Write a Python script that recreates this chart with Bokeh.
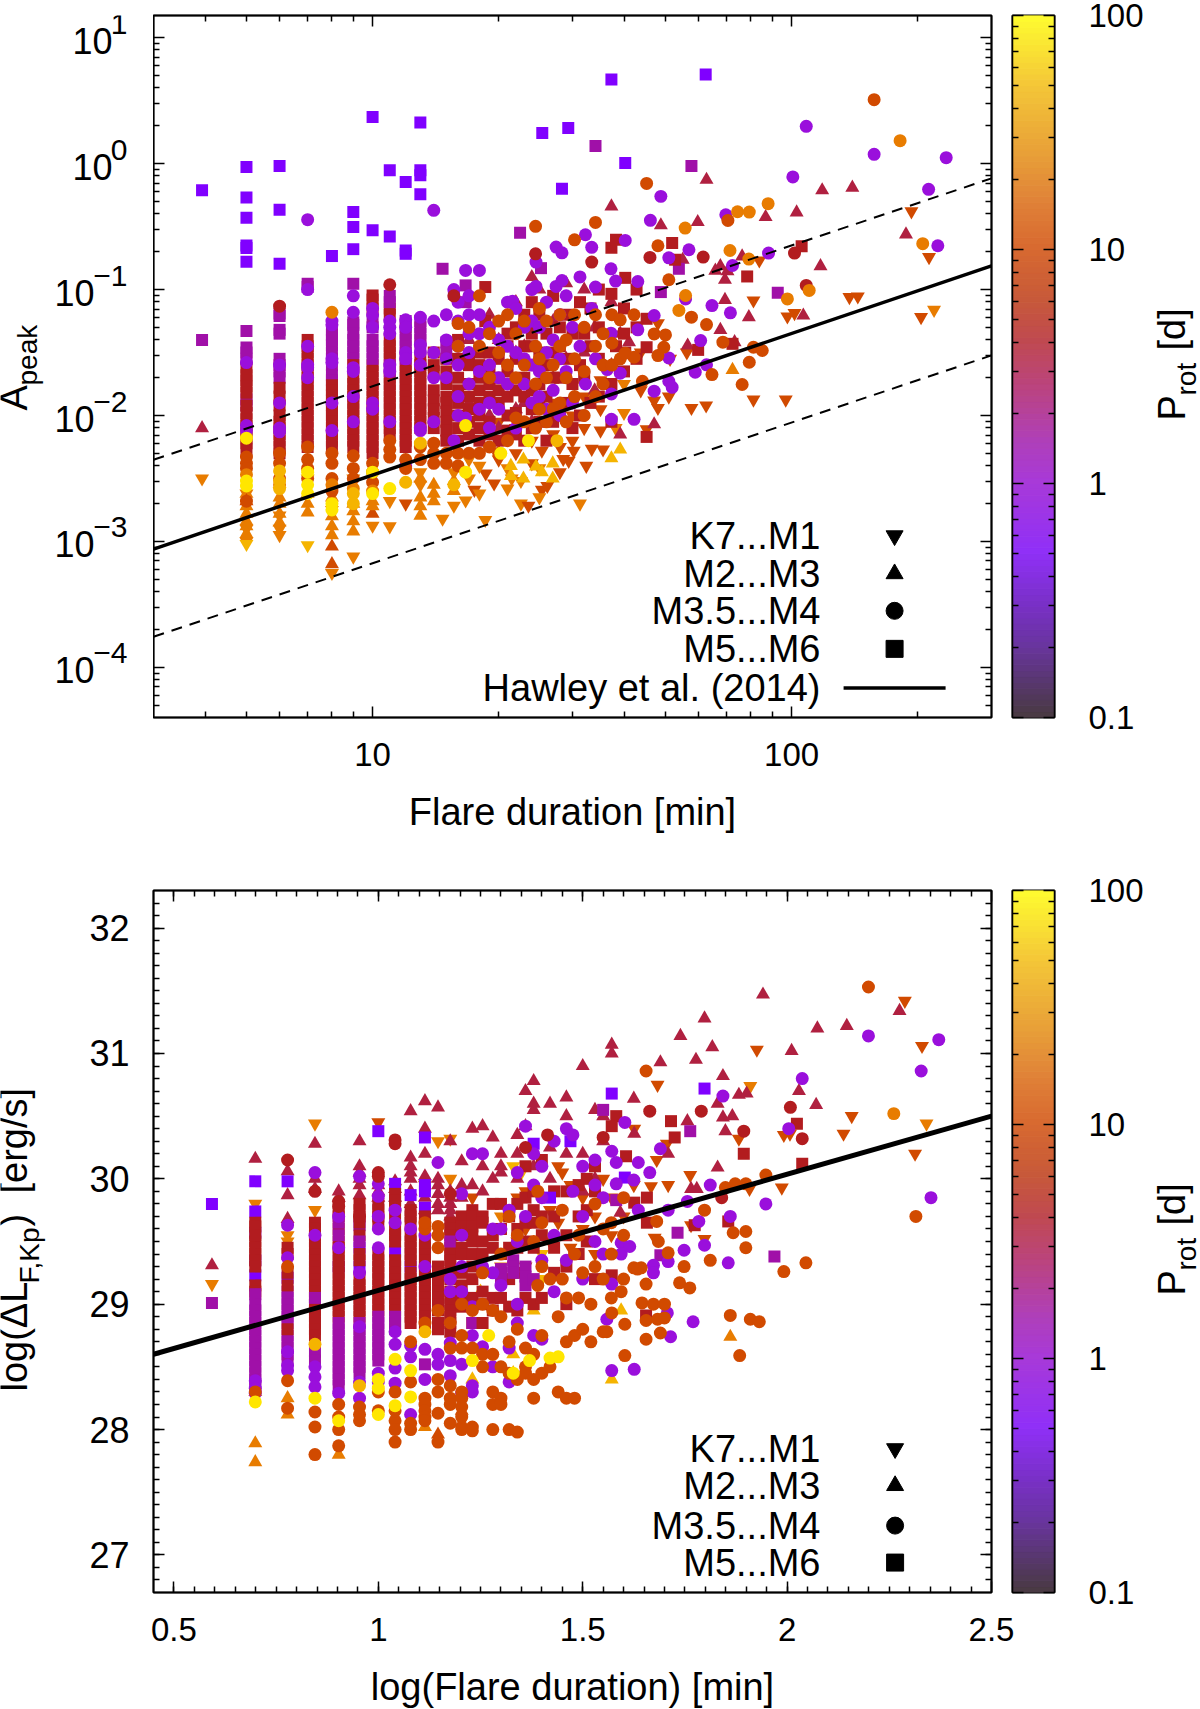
from math import pi
import numpy as np
from bokeh.embed import file_html
from bokeh.resources import INLINE
from bokeh.plotting import figure
from bokeh.layouts import column, row
from bokeh.models import (ColumnDataSource, FixedTicker, Label, LinearAxis, LogAxis,
                          CustomJSTickFormatter, Range1d)

# class index -> (rotation period [d], marker colour)
PROT = [0.5, 1.0, 1.5, 3.0, 3.5, 7.0, 12.0, 30.0, 70.0]
MARK_COLORS = ["#8000ff", "#9a0fdc", "#a010a8", "#b21c1f", "#b02040", "#d14a00", "#e87c00", "#f5b400", "#ffe600"]
CB_P = [0.1, 0.2, 0.3, 0.5, 1, 1.5, 2.5, 4, 6, 10, 15, 25, 50, 100]
CB_C = ["#4a3a44", "#6a35a0", "#7a30c8", "#9030f8", "#a83ad8", "#b040b8", "#bb4480", "#c04a50", "#c85a3a",
        "#d86a30", "#e08038", "#e8a038", "#f5c838", "#ffff30"]
LEGEND_NAMES = ["K7...M1", "M2...M3", "M3.5...M4", "M5...M6"]
LEGEND_MARKERS = ["inverted_triangle", "triangle", "circle", "square"]
HAWLEY_X = [3, 300]
HAWLEY_SOLID = [8.7e-4, 0.154]
HAWLEY_UP = [4.45e-3, 0.764]
HAWLEY_LOW = [1.75e-4, 0.030]
LOG_HAWLEY_X = [0.45, 2.5]
LOG_HAWLEY_Y = [28.6, 30.5]

# rows: (log10 duration, colour class, [log10 A_peak ...])
A_DOWN = [
 (0.593,6,[-2.5]),(0.699,6,[-2.62,-2.9,-3.0]),(0.699,7,[-3.02]),(0.778,6,[-2.795,-2.9,-2.95]),(0.778,7,[-2.6]),
 (0.845,7,[-3.03,-2.5]),(0.903,6,[-3.25,-2.75]),(0.954,6,[-3.12,-2.5]),(1.0,6,[-2.875]),(1.041,6,[-2.88,-2.68]),
 (1.079,5,[-2.70]),(1.114,6,[-2.45,-2.55]),(1.167,6,[-2.82]),(1.194,6,[-2.716,-2.45]),(1.222,6,[-2.675]),(1.243,5,[-2.59]),
 (1.269,6,[-2.83]),(1.27,5,[-2.46]),(1.29,5,[-2.54]),(1.332,6,[-2.5]),(1.354,6,[-2.70,-2.52]),(1.372,5,[-2.716]),
 (1.404,5,[-2.59,-2.28]),(1.417,5,[-2.56]),(1.455,5,[-2.345]),(1.468,5,[-2.36]),(1.48,5,[-2.28]),(1.495,6,[-2.70]),
 (1.523,5,[-2.265]),(1.55,5,[-2.27]),(1.58,6,[-2.10]),(1.654,5,[-2.11]),(1.672,5,[-1.882]),(1.681,5,[-1.94,-1.267]),
 (1.707,5,[-1.85]),(1.761,5,[-1.94]),(1.796,5,[-1.92]),(1.909,5,[-1.874]),(1.986,5,[-1.874]),(1.909,5,[-1.087]),
 (1.923,5,[-0.769]),(1.99,5,[-1.214]),(2.007,5,[-1.187]),(2.138,5,[-1.06]),(2.158,5,[-1.055]),(2.286,5,[-0.379]),
 (2.309,5,[-1.219]),(2.328,5,[-0.742]),(2.34,6,[-1.161]),
 (1.301,5,[-2.2,-2.05,-2.35]),(1.342,5,[-2.1,-2.3]),(1.38,5,[-1.95,-2.2,-2.38]),(1.431,5,[-2.15,-1.9]),(1.477,5,[-2.0,-2.2]),(1.505,5,[-2.1,-1.85]),
 (1.544,5,[-1.72,-1.95,-2.12]),(1.6,6,[-1.75,-1.98]),(1.64,5,[-1.5,-1.8]),(1.71,5,[-1.55]),(1.75,5,[-1.5]),
 (1.23,6,[-2.35,-2.5]),(1.255,6,[-2.4,-2.62]),(1.322,6,[-2.42,-2.58]),(1.398,6,[-2.42,-2.65]),(1.447,5,[-2.25,-2.45]),(1.51,5,[-2.4]),
]
A_UP = [
 (0.593,4,[-2.1]),(0.699,6,[-2.62,-2.72,-2.78,-2.84,-2.88,-2.94]),(0.699,5,[-2.68]),(0.778,6,[-2.7,-2.65,-2.78,-2.85]),(0.845,6,[-2.77,-2.7,-2.62]),(0.903,5,[-3.04,-3.18]),(0.903,6,[-2.65,-2.8,-2.88,-2.95]),
 (0.954,6,[-2.7,-2.76,-2.84,-2.92]),(1.0,5,[-2.78]),(1.0,6,[-2.68,-2.72]),(1.114,6,[-2.5,-2.795,-2.65,-2.72]),(1.146,6,[-2.55,-2.62,-2.68]),(1.194,6,[-2.52,-2.6]),(1.39,7,[-2.405]),(1.404,7,[-2.45]),
 (1.33,7,[-2.4,-2.48]),(1.36,7,[-2.35,-2.5]),(1.43,7,[-2.38,-2.5]),(1.57,7,[-2.34]),(1.591,7,[-2.27]),(1.859,6,[-1.638]),
 (1.23,4,[-1.4,-1.9]),(1.279,4,[-1.2,-2.0]),(1.301,4,[-1.4,-2.1]),(1.342,4,[-1.1,-1.5,-1.95]),(1.362,4,[-1.45,-1.9]),(1.38,4,[-0.9,-1.3,-2.05]),(1.398,4,[-1.0,-1.6]),
 (1.431,4,[-1.25,-1.7]),(1.462,4,[-0.95,-1.55]),(1.505,4,[-1.0,-1.5]),(1.53,4,[-1.3,-1.8]),
 (1.57,4,[-0.34,-1.1,-1.6]),(1.591,4,[-2.15,-1.35]),(1.612,4,[-1.418]),(1.672,4,[-2.07]),(1.688,4,[-0.49]),(1.74,4,[-0.763]),(1.752,4,[-1.444]),(1.776,4,[-0.464]),
 (1.797,4,[-0.128]),(1.818,4,[-0.85]),(1.83,4,[-0.814,-1.32]),(1.841,4,[-0.922,-1.082]),(1.847,4,[-0.854]),(1.864,4,[-1.418]),(1.882,4,[-0.737]),
 (1.898,4,[-1.219]),(1.938,4,[-0.424]),(2.012,4,[-0.387]),(2.028,4,[-1.206]),(2.069,4,[-0.814]),(2.073,4,[-0.212]),(2.145,4,[-0.191]),(2.273,4,[-0.562]),
]
A_SQUARE = [
 (0.593,0,[-0.212]),(0.699,0,[-0.027,-0.27,-0.43,-0.65,-0.67,-0.78]),(0.778,0,[-0.019,-0.366,-0.795]),(0.903,0,[-0.734]),
 (0.954,0,[-0.385,-0.504,-0.679]),(1.0,0,[0.371,-0.53]),(1.041,0,[-0.053,-0.578]),(1.079,0,[-0.146,-0.69,-0.716]),
 (1.114,0,[0.326,-0.053,-0.093,-0.244]),(1.405,0,[0.243]),(1.467,0,[0.283]),(1.452,0,[-0.2]),(1.57,0,[0.667]),(1.795,0,[0.707]),(1.603,0,[0.005]),
 (0.593,2,[-1.4]),(1.532,2,[0.14]),(1.352,2,[-0.549]),(1.167,2,[-0.835]),(1.194,2,[-1.034]),(1.222,2,[-0.967,-1.1]),(1.402,2,[-0.83]),(1.761,2,[-0.019]),
 (1.731,2,[-0.835]),(1.688,2,[-1.02]),(1.967,2,[-1.026]),
 (0.699,2,[-1.33,-1.46,-1.5,-1.55,-1.87,-1.92]),(0.699,3,[-1.62,-1.68,-1.72,-1.77,-1.82,-1.92,-1.98,-2.03,-2.08,-2.14,-2.18,-2.22,-2.27]),
 (0.778,2,[-1.19,-1.21,-1.32,-1.35,-1.55,-1.6,-1.65,-1.7]),(0.778,3,[-1.78,-1.85,-1.92,-2.0,-2.05,-2.1,-2.15,-2.2,-2.25,-2.3]),
 (0.845,2,[-0.954,-0.98]),(0.845,3,[-1.4,-1.45,-1.5,-1.55,-1.6,-1.65,-1.7,-1.75,-1.8,-1.85,-1.9,-1.95,-2.0,-2.05,-2.1,-2.15,-2.2,-2.25]),
 (0.903,2,[-1.32,-1.36,-1.4,-1.44,-1.5,-1.55,-1.6,-1.68,-1.72]),(0.903,3,[-1.76,-1.8,-1.84,-1.88,-1.92,-1.96,-2.0,-2.05,-2.1,-2.15,-2.2,-2.25]),
 (0.954,2,[-0.954,-1.26,-1.28,-1.5,-1.55,-1.35,-1.4,-1.45]),(0.954,3,[-1.6,-1.7,-1.75,-1.8,-1.85,-1.9,-1.95,-2.0,-2.05,-2.1,-2.15,-2.2,-2.25]),
 (1.0,3,[-1.047,-1.08,-1.15,-1.6,-1.65,-1.7,-1.75,-1.8,-1.85,-1.9,-1.95,-2.0,-2.05,-2.1,-2.15,-2.2,-2.25,-2.3]),(1.0,2,[-1.4,-1.45,-1.5,-1.55,-1.25,-1.3]),
 (1.041,3,[-1.15,-1.2,-1.4,-1.45,-1.5,-1.55,-1.7,-1.75,-1.8,-1.85,-1.9,-1.95,-2.0,-2.05,-2.1,-2.15]),(1.041,2,[-1.05,-1.1,-1.6,-1.65]),
 (1.079,3,[-1.6,-1.65,-1.7,-1.75,-1.8,-1.85,-1.9,-1.95,-2.0,-2.05,-2.1,-2.15,-2.2,-2.25]),(1.079,2,[-1.25,-1.3,-1.35,-1.4,-1.45,-1.5,-1.55]),
 (1.114,3,[-1.55,-1.6,-1.65,-1.7,-1.75,-1.8,-1.85,-1.9,-1.95,-2.0,-2.05,-2.1]),(1.114,2,[-1.25,-1.3,-1.35,-1.4,-1.45]),
 (1.146,3,[-1.5,-1.6,-1.65,-1.8,-1.88,-1.95,-2.02,-2.1]),(1.176,3,[-1.55,-1.65,-1.75,-1.85,-1.9,-1.97,-2.05,-2.12,-2.2]),(1.176,2,[-1.42,-1.5]),(1.204,3,[-1.4,-1.55,-1.7,-1.8,-1.9,-2.0,-2.1,-2.2]),
 (1.23,3,[-1.55,-1.6,-1.75,-1.85,-1.95,-2.05,-2.15]),(1.255,3,[-1.5,-1.6,-1.7,-1.8,-1.9,-2.0,-2.1,-2.2]),(1.279,3,[-1.5,-1.65,-1.75,-1.85,-2.05,-2.15]),
 (1.301,3,[-1.55,-1.7,-1.8,-1.9,-2.2]),(1.269,3,[-0.98,-1.25]),(1.322,3,[-1.35,-1.45,-1.65,-1.85,-2.0,-2.12]),(1.342,3,[-1.3,-1.55,-1.8,-1.98,-2.15]),(1.362,3,[-1.2,-1.45,-1.7,-1.85,-2.2]),
 (1.38,3,[-1.1,-1.35,-1.45,-1.6,-1.8,-1.95,-2.1]),(1.398,3,[-1.2,-1.5,-1.75,-1.9,-2.05]),(1.415,3,[-1.35,-1.6,-1.85,-2.2]),(1.431,3,[-1.5,-1.05,-1.7,-2.05]),
 (1.447,3,[-1.3,-1.45,-1.7,-1.95]),(1.462,3,[-1.2,-1.55,-1.9]),(1.477,3,[-1.35,-1.75,-2.1]),(1.495,3,[-1.1,-1.6,-2.0]),(1.52,3,[-1.15,-1.45,-1.9]),
 (1.505,3,[-1.35,-1.7]),(1.54,3,[-1.0,-1.3,-1.55,-1.85]),(1.6,3,[-1.15,-1.35,-1.65]),(1.63,3,[-1.0,-1.3,-1.55]),
 (1.57,3,[-0.668,-1.034,-1.75,-2.05]),(1.581,3,[-0.604,-1.45]),(1.603,3,[-0.907,-1.5]),(1.654,3,[-1.232,-1.458,-2.17]),(1.715,3,[-0.631]),
 (1.722,3,[-0.763]),(1.777,3,[-1.479]),(1.859,3,[-1.431]),(1.894,3,[-0.896]),(2.024,3,[-0.657]),
]
A_CIRCLE = [
 (0.845,1,[-0.445,-1.0,-1.45,-1.6,-1.62,-1.7]),(0.954,1,[-1.05,-1.18,-1.62,-1.65,-1.85,-2.05]),(0.699,1,[-1.58,-2.08,-2.12]),(0.778,1,[-1.6,-1.9,-2.1,-2.13]),
 (0.903,1,[-1.25,-1.28,-1.55,-1.58,-1.9,-2.12]),(1.0,1,[-1.15,-1.2,-1.3,-1.9,-1.95]),(1.041,1,[-1.25,-1.3,-1.35,-1.6,-1.65,-2.05]),
 (1.079,1,[-1.24,-1.3,-1.5,-1.55,-2.4]),(1.114,1,[-1.22,-1.44,-1.5,-1.6,-2.1,-2.12]),(1.146,1,[-0.371,-1.25,-1.5,-1.7,-2.05]),
 (1.176,1,[-1.2,-1.4,-1.55,-1.7]),(1.194,1,[-1.0,-2.2]),(1.204,1,[-1.1,-1.25,-1.45,-1.6,-1.85,-2.0]),(1.222,1,[-0.848,-2.02]),
 (1.23,1,[-1.05,-1.2,-1.35,-1.5,-1.75]),(1.255,1,[-0.848,-1.2,-1.35,-1.65,-1.95]),(1.279,1,[-1.3,-1.6,-1.9,-2.1]),(1.301,1,[-1.4,-1.7,-1.95]),
 (1.322,1,[-1.1,-1.45,-1.75]),(1.334,1,[-1.092]),(1.342,1,[-1.15,-1.5,-2.1]),(1.362,1,[-1.3,-1.55,-1.75]),(1.38,1,[-1.0,-1.25,-1.6,-1.9]),
 (1.39,1,[-0.782,-0.975]),(1.398,1,[-1.3,-1.65,-1.85]),(1.415,1,[-1.1,-1.5,-1.95]),(1.431,1,[-1.4,-1.8]),(1.438,1,[-0.663,-0.975]),(1.447,1,[-1.2,-1.55,-2.0]),
 (1.452,1,[-0.708,-0.928]),(1.462,1,[-1.05,-1.65]),(1.477,1,[-1.3,-1.9]),(1.495,1,[-0.9,-1.45]),(1.508,1,[-0.565,-1.75]),(1.523,1,[-0.665,-1.15]),(1.532,1,[-0.98,-1.55]),
 (1.56,1,[-1.635]),(1.569,1,[-0.835,-1.346]),(1.57,1,[-1.829,-2.03]),(1.58,1,[-0.933]),(1.591,1,[-1.664]),(1.603,1,[-0.61]),(1.624,1,[-2.03]),(1.633,1,[-0.936,-1.32]),
 (1.663,1,[-0.45]),(1.672,1,[-1.206,-1.807]),(1.688,1,[-0.26]),(1.707,1,[-0.748,-1.543,-1.728]),(1.715,1,[-1.776]),(1.747,1,[-1.074]),(1.755,1,[-0.684]),
 (1.77,1,[-1.656]),(1.783,1,[-1.405]),(1.797,1,[-1.598]),(1.81,1,[-1.127]),(1.843,1,[-0.406]),(1.854,1,[-1.185]),(1.859,1,[-0.809]),(1.945,1,[-0.71]),(2.003,1,[-0.106]),
 (2.035,1,[0.296]),(2.197,1,[0.074]),(2.327,1,[-0.204]),(2.349,1,[-0.652]),(2.369,1,[0.047]),
 (0.778,3,[-1.132]),(1.041,3,[-0.962]),(1.194,3,[-1.05]),(1.389,3,[-0.716]),(1.523,3,[-0.782]),(1.662,3,[-0.745]),(1.789,3,[-0.742]),(2.007,3,[-0.71]),(2.035,3,[-0.967]),
 (0.699,5,[-2.33,-2.38,-2.42,-2.68]),(0.778,5,[-2.3,-2.38,-2.5]),(0.845,5,[-2.25,-2.35,-2.42,-2.5]),(0.903,5,[-2.3,-2.38,-2.5,-2.6]),(0.954,5,[-2.32,-2.42,-2.5]),
 (1.0,5,[-2.38,-2.45,-2.53]),(1.041,5,[-2.2,-2.27,-2.33]),(1.079,5,[-2.35,-2.42]),(1.114,5,[-2.25,-2.35]),(1.146,5,[-2.22,-2.3,-2.38]),(1.176,5,[-2.3,-2.38]),
 (1.204,5,[-1.27,-1.45,-2.3,-2.4]),(1.23,5,[-1.3,-2.3]),(1.279,5,[-1.35,-2.25,-1.7]),(1.322,5,[-1.2,-1.6,-2.2]),(1.362,5,[-1.25,-1.6,-2.05]),(1.389,5,[-0.498,-1.45,-1.75,-2.1]),
 (1.415,5,[-1.25,-1.7,-2.05]),(1.447,5,[-1.45,-1.9,-1.2]),(1.482,5,[-0.605,-1.55,-1.85,-1.2]),(1.505,5,[-1.3,-1.65,-2.0]),(1.532,5,[-0.467,-1.2,-1.45,-1.85]),
 (1.255,5,[-1.05,-1.45,-2.3]),(1.301,5,[-1.25,-1.5,-2.3]),(1.342,5,[-1.35,-1.7,-2.02]),(1.398,5,[-1.15,-1.55,-1.95]),(1.431,5,[-1.6,-1.95]),(1.462,5,[-1.4,-1.7,-2.05]),(1.55,5,[-1.35,-1.6,-1.75]),
 (1.571,5,[-1.426,-1.2,-1.6]),(1.591,5,[-1.24,-1.55]),(1.603,5,[-1.505]),(1.624,5,[-1.537,-1.2]),(1.644,5,[-1.728]),(1.654,5,[-0.157]),(1.672,5,[-1.352]),(1.681,5,[-0.652,-1.524]),
 (1.695,5,[-1.458]),(1.699,5,[-1.36]),(1.707,5,[-0.922]),(1.731,6,[-1.166]),(1.746,6,[-0.512]),(1.747,6,[-1.047]),(1.761,5,[-1.219]),(1.797,5,[-1.278]),(1.81,5,[-1.675]),
 (1.836,5,[-1.418]),(1.848,5,[-0.451]),(1.853,6,[-0.69]),(1.871,6,[-0.382]),(1.882,5,[-1.754]),(1.898,6,[-0.758]),(1.899,6,[-0.385]),(1.899,5,[-1.577]),(1.909,5,[-1.458]),
 (1.93,5,[-1.484]),(1.944,6,[-0.318]),(1.99,6,[-1.074]),(2.042,6,[-1.007]),(2.197,5,[0.508]),(2.259,6,[0.182]),(2.313,6,[-0.636]),(0.903,6,[-1.18,-2.55]),
 (0.699,6,[-2.47]),(0.778,6,[-2.55]),(0.954,6,[-2.58]),(1.0,6,[-2.6]),
 (0.699,8,[-2.18,-2.52,-2.56]),(0.778,7,[-2.44,-2.52,-2.58]),(0.845,8,[-2.45,-2.55,-2.62]),(0.903,8,[-2.7,-2.75]),(0.954,7,[-2.62,-2.7]),(1.0,8,[-2.45,-2.62]),
 (1.041,8,[-2.58]),(1.079,7,[-2.53]),(1.114,7,[-2.22]),(1.194,7,[-2.55]),(1.222,8,[-2.45]),(1.222,8,[-2.08]),(1.306,8,[-2.3]),(1.372,8,[-2.2]),(1.44,7,[-2.2]),
]

# rows: (log10 duration, colour class, [log10 Delta L ...])
B_DOWN = [
 (0.593,6,[29.16]),(0.699,6,[29.8]),(0.778,6,[29.55,29.5]),(0.845,6,[30.44,29.75]),(1.0,5,[30.45]),(1.114,6,[29.95]),(1.146,6,[30.3]),(1.176,6,[30.32,30.0]),
 (1.23,5,[29.85]),(1.33,7,[30.1]),(1.35,7,[30.05]),(1.4,7,[29.4,29.2]),(1.45,5,[30.05]),
 (1.55,5,[30.0]),(1.625,5,[29.95]),(1.626,5,[30.4]),(1.667,5,[29.94]),(1.676,5,[29.53]),(1.681,5,[30.15]),(1.683,5,[30.75]),(1.706,5,[30.28]),(1.709,5,[29.95]),(1.763,5,[30.03]),
 (1.765,5,[29.63]),(1.798,5,[29.52]),(1.882,5,[30.32]),(1.908,5,[29.92]),(1.91,6,[30.74]),(1.926,5,[31.03]),(1.987,5,[29.93]),(1.992,5,[30.35]),(2.007,5,[30.36]),
 (2.138,5,[30.36]),(2.158,5,[30.5]),(2.288,5,[31.42]),(2.313,5,[30.2]),(2.33,5,[31.06]),(2.341,6,[30.44]),
 (1.36,5,[29.9,29.6,29.3]),(1.42,5,[29.75,29.5]),(1.5,5,[29.85,29.6]),(1.53,5,[29.7,29.4]),
 (1.3,6,[29.7,29.3]),(1.34,5,[29.85,29.5]),(1.44,5,[30.1,29.65]),(1.47,5,[29.95,29.45]),(1.57,5,[29.85,29.55]),(1.6,5,[29.7]),
]
B_UP = [
 (0.593,4,[29.31]),(0.699,4,[30.16]),(0.699,6,[27.89,27.74,28.3]),(0.778,4,[30.06,29.87,29.68]),(0.778,6,[28.25,28.12]),(0.845,4,[30.28,30.0,29.92]),(0.903,4,[29.9,29.85]),(0.903,6,[27.8]),
 (0.954,4,[30.3,30.1,30.05,29.87,30.0,29.95]),(1.0,4,[29.95,29.9,29.85]),(1.041,4,[29.98,29.92,29.85]),(1.079,4,[30.54,30.17,30.1,30.05,30.0,29.8,29.9]),(1.114,4,[30.62,30.4,30.2,30.02,29.75,29.85]),(1.146,4,[30.57,30.0,29.88,29.75,29.95,29.8]),
 (1.176,4,[30.3,29.9,29.8,29.7,29.85,29.75]),(1.204,4,[30.14,29.95,29.85]),(1.23,4,[30.4,29.95]),(1.146,5,[27.96]),(1.204,5,[28.15]),(1.114,6,[28.02]),
 (1.255,4,[30.42,30.1,29.9]),(1.28,4,[30.33,30.0]),(1.3,4,[30.2,30.05,30.1]),(1.34,4,[30.2,30.35,30.0]),(1.36,4,[30.42,30.7]),(1.38,4,[30.78,30.6,30.55,30.1]),(1.42,4,[30.6,30.0,30.25]),
 (1.46,4,[30.65,30.5,30.2]),(1.5,4,[30.9,30.2,29.9]),(1.53,4,[30.55,30.0]),(1.55,4,[30.5,30.3]),(1.23,7,[28.4]),(1.25,7,[29.1]),(1.33,7,[28.45,28.6]),(1.38,7,[28.95]),(1.571,7,[28.4]),(1.594,7,[28.95]),
 (1.571,4,[31.07,31.0]),(1.592,4,[29.73]),(1.625,4,[30.64]),(1.626,4,[30.36]),(1.69,4,[30.93]),(1.709,4,[30.2]),(1.739,4,[31.14]),(1.756,4,[30.46]),(1.765,4,[29.92]),(1.777,4,[30.95]),(1.779,4,[29.92]),
 (1.798,4,[31.28]),(1.817,4,[31.05]),(1.83,4,[30.6,30.09]),(1.843,4,[30.82,30.49]),(1.849,4,[30.38]),(1.866,4,[30.5]),(1.882,4,[30.67]),(1.901,4,[30.68]),(1.941,4,[31.47]),
 (2.011,4,[31.02]),(2.029,4,[30.7]),(2.071,4,[30.59]),(2.074,4,[31.2]),(2.146,4,[31.22]),(2.275,4,[31.34]),(1.861,6,[28.74]),
]
B_SQUARE = [
 (0.593,0,[29.8]),(0.593,2,[29.01]),(0.699,0,[29.98,29.74,29.57,29.35,29.23]),(0.778,0,[29.98,29.21]),(0.845,0,[29.0]),(0.903,0,[29.3]),(0.954,0,[29.63,29.45,29.3]),
 (1.0,0,[30.38]),(1.041,0,[29.96,29.42]),(1.079,0,[29.87,29.3]),(1.114,0,[30.33,29.95,29.9,29.77]),(1.571,0,[30.68]),(1.798,0,[30.72]),(1.603,0,[30.01]),
 (0.699,3,[29.65,29.62,29.5,29.45,29.4,29.35,29.3,29.55,29.15,29.1]),(0.699,2,[29.08,29.0,28.95,28.9,28.85,28.8,28.75,28.7,28.65,28.6,28.55,28.5,28.45,28.4,28.35]),
 (0.778,2,[29.1,29.05,29.0,28.95,28.9,28.85,28.75,28.7,28.65,28.6,28.55]),(0.778,3,[29.25,29.15,28.8,29.45,29.4]),
 (0.845,3,[29.65,29.6,29.55,29.5,29.45,29.4,29.35,29.3,29.25,29.2,29.15,29.1,29.05,29.0,28.95,28.9,28.85,28.8,28.75]),(0.845,2,[29.05,28.62,28.55]),
 (0.903,3,[29.75,29.7,29.6,29.5,29.45,29.4,29.35,29.3,29.25,29.2,29.15,29.1,29.05,29.0,28.95,28.9]),(0.903,2,[29.65,29.55,28.85,28.8,28.75,28.7,28.65,28.6,28.55,28.5,28.45,28.4,28.35]),
 (0.954,3,[29.8,29.75,29.7,29.65,29.55,29.4,29.35,29.2,29.15,29.1,29.05,29.0,28.95,28.9]),(0.954,2,[29.5,28.85,28.8,28.75,28.7,28.65,28.6,28.55,28.5,28.45]),
 (1.0,3,[29.8,29.75,29.7,29.65,29.4,29.35,29.3,29.25,29.2,29.15,29.1,29.05,29.0,28.95]),(1.0,2,[28.9,28.85,28.8,28.75,28.7,28.65,28.6,28.55]),
 (1.041,3,[29.88,29.83,29.78,29.72,29.6,29.55,29.5,29.35,29.3,29.25,29.2,29.15,29.1,29.05,29.0,28.95]),(1.041,2,[28.9,28.85,28.8]),
 (1.079,3,[29.75,29.7,29.65,29.55,29.5,29.45,29.4,29.35,29.25,29.2,29.15,29.1,29.05,29.0,28.95,28.9,28.85]),(1.114,3,[29.7,29.65,29.5,29.45,29.4,29.35,29.3,29.25,29.2,29.15,29.1,29.05,29.0,28.95,28.9,28.85]),(1.114,2,[28.52]),
 (1.146,3,[29.3,29.25,29.2,29.15,29.1,29.05,29.0,28.95,28.85,28.8]),(1.176,3,[29.65,29.6,29.55,29.45,29.4,29.35,29.3,29.25,29.2,29.1,29.05,29.0,28.95,28.9,28.85,28.78]),(1.176,2,[29.5]),
 (1.204,3,[29.7,29.62,29.55,29.45,29.4,29.25,29.15,29.05,28.98]),(1.23,3,[29.75,29.7,29.62,29.55,29.5,29.4,29.3,29.2,29.05,28.85]),(1.23,2,[28.85]),(1.255,3,[29.7,29.65,29.5,29.4,29.1,29.0,28.85]),
 (1.28,3,[29.8,29.55,29.45,29.05,28.95]),(1.3,3,[29.8,29.6,29.4,29.25,29.05]),(1.32,3,[29.7,29.45,29.2,28.98]),(1.34,3,[29.8,29.6,29.45,29.25,28.95]),(1.36,3,[30.1,29.85,29.65,29.5,29.05]),
 (1.38,3,[29.9,29.75,29.65,29.45,29.0]),(1.4,3,[30.15,29.7,29.55,29.05]),(1.43,3,[29.9,29.7,29.45,29.25]),(1.46,3,[29.9,29.55,29.3,29.0]),(1.49,3,[29.95,29.7,29.4]),(1.51,3,[30.0,29.75,29.5]),(1.53,3,[30.1,29.9,29.2]),
 (1.55,2,[30.55]),(1.582,3,[30.5]),(1.571,3,[30.42,29.23]),(1.606,3,[30.18]),(1.626,3,[29.81]),(1.657,3,[29.85,29.65]),(1.716,3,[30.46]),(1.725,3,[30.33]),(1.774,3,[29.63]),
 (1.856,3,[29.66]),(1.894,3,[30.2]),(2.024,3,[30.44]),(2.037,3,[30.12]),(1.655,3,[28.91]),
 (1.3,2,[29.28,29.2]),(1.33,2,[29.35,29.3,29.25]),(1.36,2,[29.3,29.22,29.15]),(1.38,2,[29.2]),(1.42,0,[29.85]),(1.47,0,[30.3]),(1.38,0,[30.28]),
 (1.582,2,[29.83]),(1.69,2,[29.39]),(1.732,2,[29.57]),(1.763,2,[30.38]),(1.969,2,[29.38]),
]
B_CIRCLE = [
 (0.699,1,[28.39,28.33,28.29]),(0.778,1,[29.63,29.37,28.62,28.51,28.47]),(0.845,1,[29.55,30.05,28.5,28.42,28.34]),(0.903,1,[29.7,29.45,28.29]),
 (0.954,1,[30.02,29.25,28.82,28.38,28.25]),(1.0,1,[29.96,29.86,29.7,29.6,29.45,28.45,28.38]),(1.041,1,[29.75,29.65,28.78,28.68,28.49,28.37]),
 (1.079,1,[29.6,28.67,28.58,28.12]),(1.114,1,[29.55,29.3,28.64,28.4]),(1.146,1,[30.13,28.6,28.52]),(1.176,1,[28.69,28.55,28.43,29.1,29.2]),
 (1.204,1,[29.88,29.55,29.3,29.1,28.52,28.29]),(1.23,1,[30.2,28.98,28.75,28.3,28.35]),(1.255,1,[30.2,29.3,28.66]),(1.28,1,[29.6,29.25,28.5]),(1.3,1,[29.6,29.15]),
 (1.32,1,[29.75,28.65,28.38]),(1.34,1,[30.05,29.5,29.0,28.85]),(1.36,1,[30.42,29.7]),(1.38,1,[30.2,29.95,28.75]),(1.4,1,[30.1,29.85,29.35,28.72]),
 (1.43,1,[30.3,29.55,29.1]),(1.46,1,[30.4,29.35]),(1.476,1,[30.35,29.9]),(1.5,1,[30.1,29.7,29.2]),(1.53,1,[30.15,29.95,29.5]),(1.55,1,[29.85,29.4]),
 (1.559,1,[28.88]),(1.571,1,[30.22,29.16,28.47]),(1.582,1,[30.13,29.96]),(1.594,1,[29.49,29.4]),(1.603,1,[30.45]),(1.615,1,[29.46]),(1.625,1,[29.99]),(1.626,1,[28.48]),(1.636,1,[30.13,29.75]),
 (1.664,1,[30.05]),(1.673,1,[29.31,29.25]),(1.69,1,[30.24]),(1.707,1,[28.93]),(1.709,1,[29.75,29.34]),(1.715,1,[28.74]),(1.748,1,[29.43]),(1.756,1,[29.82]),(1.77,1,[28.86]),(1.784,1,[29.66]),
 (1.798,1,[29.47]),(1.812,1,[29.95]),(1.843,1,[30.66]),(1.856,1,[29.33]),(1.861,1,[29.7]),(1.948,1,[29.8]),(2.004,1,[30.4]),(2.037,1,[30.8]),(2.199,1,[31.14]),(2.328,1,[30.86]),(2.352,1,[29.85]),(2.371,1,[31.11]),
 (0.778,3,[30.15]),(0.845,3,[29.9]),(0.903,3,[29.82,29.78]),(0.954,3,[29.7]),(1.0,3,[30.05,30.02]),(1.041,3,[30.31,30.28]),(1.176,3,[29.88]),(1.36,3,[30.25]),(1.414,3,[30.35]),
 (1.55,3,[30.33]),(1.664,3,[30.54]),(1.79,3,[30.54]),(1.84,3,[29.85]),(1.894,3,[30.38]),(2.008,3,[30.57]),(2.037,3,[30.32]),
 (0.699,5,[28.3]),(0.778,5,[28.39,28.17,29.3]),(0.845,5,[28.14,28.02,27.8]),(0.903,5,[28.2,28.1,28.0,27.87]),(0.954,5,[28.18,28.07,28.12]),(1.0,5,[28.3,28.15]),(1.041,5,[28.3,28.07,28.0,27.9,28.15]),
 (1.079,5,[28.7,28.38,28.0,28.05]),(1.114,5,[28.25,28.2,28.15,28.1,28.07,28.85,29.6,29.65]),(1.146,5,[29.62,29.55,29.45,28.95,28.4,28.3,28.13,27.9]),(1.176,5,[28.35,28.25,28.2,28.05,28.65,28.85]),
 (1.204,5,[29.0,28.75,28.65,28.3,28.25,28.18,28.1,28.02,28.0]),(1.23,5,[28.95,28.65,28.02,27.99]),(1.255,5,[29.25,29.0,28.6,28.5]),(1.28,5,[28.95,28.6,28.2,28.3,28.0]),(1.3,5,[29.4,28.9,28.5,28.25,28.2]),
 (1.32,5,[29.7,28.7,28.45,28.0]),(1.34,5,[29.55,28.8,28.4,27.98]),(1.36,5,[28.65,28.5,28.45]),(1.38,5,[29.5,28.6,28.4,28.25]),(1.4,5,[29.65,29.3,28.75,28.45]),(1.42,5,[29.2,28.5]),(1.44,5,[28.9,28.3]),
 (1.46,5,[29.05,28.7,28.25]),(1.48,5,[29.4,28.75,28.25]),(1.5,5,[29.25,28.8]),(1.52,5,[29.0,28.7]),(1.55,5,[29.6,29.2,28.78]),
 (1.39,5,[29.15,29.9]),(1.45,5,[29.75,29.2]),(1.49,5,[29.55,29.05]),(1.53,5,[29.8,29.3]),(1.57,5,[29.65,29.4,29.05]),(1.6,5,[29.85,29.55,29.2]),
 (1.559,5,[28.78]),(1.571,5,[28.93]),(1.594,5,[29.1]),(1.603,5,[28.84,28.59]),(1.625,5,[29.29]),(1.634,5,[29.28]),(1.643,5,[29.29]),(1.645,5,[29.01]),(1.655,5,[30.86,29.16,28.87,28.72]),(1.673,5,[29.0]),
 (1.681,5,[29.66]),(1.683,5,[28.88]),(1.685,5,[29.5]),(1.69,5,[28.77]),(1.7,5,[28.89,29.0]),(1.709,5,[29.41]),(1.737,5,[29.17]),(1.748,5,[29.3]),(1.762,5,[29.13]),(1.798,5,[29.75]),(1.812,5,[29.35]),(1.849,5,[29.93]),
 (1.861,5,[28.91]),(1.868,5,[29.57]),(1.873,5,[29.96]),(1.884,5,[28.59]),(1.899,5,[29.96,29.58,29.45]),(1.91,5,[28.88]),(1.932,5,[28.86]),(1.948,5,[30.03]),(1.992,5,[29.26]),(2.046,5,[29.33]),(2.199,5,[31.53]),
 (2.261,6,[30.52]),(2.315,5,[29.7]),
 (0.699,8,[28.22]),(0.845,8,[28.25]),(0.845,7,[28.68]),(0.903,8,[28.07]),(0.954,7,[28.35]),(1.0,8,[28.4,28.33,28.12]),(1.041,8,[28.56,28.19]),(1.079,8,[28.47,28.26]),(1.114,7,[28.78]),
 (1.23,8,[28.55]),(1.27,8,[28.75]),(1.33,8,[28.45]),(1.37,8,[28.55]),(1.42,8,[28.57]),(1.44,8,[28.58]),
]


def flat(rows):
    xs, ys, cl = [], [], []
    for x, k, vs in rows:
        for v in vs:
            xs.append(x)
            ys.append(v)
            cl.append(MARK_COLORS[k])
    return np.array(xs), np.array(ys), cl


FONT = "Liberation Sans"
TICK = "33px"
LABEL_FS = "38px"
BLANK = "return ''"
FRAME_BOTTOM = [717, 1592]
R_STRIP_L = 1150


def txt(p, i, x, y, s, size=33, align="left", base="alphabetic", angle=0, left=153):
    # Label screen units are measured from the frame's lower-left corner
    p.add_layout(Label(x=x - left, y=FRAME_BOTTOM[i] - y, x_units="screen", y_units="screen", text=s,
                       text_font=FONT, text_font_size=f"{size}px", text_align=align, text_baseline=base,
                       text_color="black", angle=angle, angle_units="rad"))


def style_axis(a, ticks, minor, labelled=False, standoff=0, overrides=None):
    a.ticker = FixedTicker(ticks=ticks, minor_ticks=minor)
    a.major_tick_in, a.major_tick_out = 11, 0
    a.minor_tick_in, a.minor_tick_out = 6, 0
    a.major_tick_line_width = 1.5
    a.minor_tick_line_width = 1.5
    a.axis_line_color = "black"
    a.axis_line_width = 1.5
    a.major_tick_line_color = "black"
    a.minor_tick_line_color = "black"
    if labelled:
        a.major_label_text_font = FONT
        a.major_label_text_font_size = TICK
        a.major_label_text_color = "black"
        a.major_label_standoff = standoff
        if overrides:
            a.major_label_overrides = overrides
    else:
        a.formatter = CustomJSTickFormatter(code=BLANK)


def add_legend(p, i, names, ys_win, to_data):
    for n, m, yw in zip(names, LEGEND_MARKERS, ys_win):
        txt(p, i, 820, yw, n, 38, "right", "middle")
        x, y = to_data(894, yw)
        p.scatter([x], [y], marker=m, size=17, color="black")


def scatter_set(p, rows_list, xf, yf):
    for rows, m, sz in rows_list:
        x, y, c = flat(rows)
        src = ColumnDataSource(dict(x=xf(x), y=yf(y), c=c))
        p.scatter("x", "y", source=src, marker=m, size=sz, fill_color="c", line_color=None)


def colorbar(h, bt, bb):
    lv = np.logspace(-1, 2, 121)
    lg = np.interp(np.log10(lv), np.log10(CB_P), np.arange(len(CB_P)))
    rgb = np.array([[int(c[j:j + 2], 16) for j in (1, 3, 5)] for c in CB_C])
    cols = []
    for g in lg[:-1]:
        a = int(min(g, len(CB_C) - 2))
        t = g - a
        v = (1 - t) * rgb[a] + t * rgb[a + 1]
        cols.append("#%02x%02x%02x" % tuple(int(q) for q in v))
    f = figure(width=149, height=h, x_range=(0, 1), y_range=(0.1, 100), y_axis_type="log",
               output_backend="svg", toolbar_location=None, min_border_left=11, min_border_right=96,
               min_border_top=bt, min_border_bottom=bb, frame_width=42, frame_height=702,
               margin=(0, 0, 0, -30))
    f.quad(left=0, right=1, bottom=lv[:-1], top=lv[1:], fill_color=cols, line_color=cols)
    f.grid.visible = False
    f.xaxis.visible = False
    f.outline_line_color = "black"
    f.outline_line_width = 2
    f.border_fill_color = None
    maj = [0.1, 1, 10, 100]
    mn = [m * d for d in (0.1, 1, 10) for m in range(2, 10)]
    style_axis(f.yaxis[0], maj, mn)
    ra = LogAxis()
    style_axis(ra, maj, mn, True, 34, {0.1: "0.1", 1: "1", 10: "10", 100: "100"})
    f.add_layout(ra, "right")
    return f


def strip(width, height, bt, bb, yr):
    """Blank figure whose frame is the whole strip, to carry rotated side labels."""
    s = figure(width=width, height=height, x_range=(0, width), y_range=yr, output_backend="svg", toolbar_location=None,
               min_border_left=0, min_border_right=0, min_border_top=bt, min_border_bottom=bb,
               frame_width=width, frame_height=702)
    s.axis.visible = False
    s.grid.visible = False
    s.outline_line_color = None
    return s


def bottom_label(a, s):
    a.axis_label = s
    a.axis_label_text_font = FONT
    a.axis_label_text_font_style = "normal"
    a.axis_label_text_font_size = LABEL_FS
    a.axis_label_text_color = "black"
    a.axis_label_standoff = 22


# ---------- top panel ----------
p1 = figure(width=878, height=870, x_axis_type="log", y_axis_type="log", x_range=Range1d(3, 300), y_range=Range1d(4e-5, 15),
            output_backend="svg", toolbar_location=None, min_border_left=0, min_border_right=40, min_border_top=15,
            min_border_bottom=153, frame_width=838, frame_height=702)
p1.grid.visible = False
p1.outline_line_color = "black"
p1.outline_line_width = 2
xm = [m * d for d in (1, 10, 100) for m in range(2, 10)]
xm = [v for v in xm if 3 < v < 300]
ym = [m * 10.0 ** e for e in range(-5, 1) for m in range(2, 10)]
ym = [v for v in ym if 4e-5 < v < 15]
ymaj = [1e-4, 1e-3, 1e-2, 1e-1, 1, 10]
bottom1, left1 = p1.below[0], p1.left[0]
style_axis(bottom1, [10, 100], xm, True, 25, {10: "10", 100: "100"})
style_axis(left1, ymaj, ym)
bottom_label(bottom1, "Flare duration [min]")
top1, right1 = LogAxis(), LogAxis()
style_axis(top1, [10, 100], xm)
style_axis(right1, ymaj, ym)
p1.add_layout(top1, "above")
p1.add_layout(right1, "right")

scatter_set(p1, [(A_DOWN, "inverted_triangle", 14), (A_UP, "triangle", 14), (A_SQUARE, "square", 12), (A_CIRCLE, "circle", 13)],
            lambda x: 10 ** x, lambda y: 10 ** y)
p1.line(HAWLEY_X, HAWLEY_SOLID, line_color="black", line_width=3.5)
p1.line(HAWLEY_X, HAWLEY_UP, line_color="black", line_width=2, line_dash="11 8")
p1.line(HAWLEY_X, HAWLEY_LOW, line_color="black", line_width=2, line_dash="11 8")


def to_data1(xw, yw):
    return 10 ** (1 + (xw - 372) / 419), 10 ** (-(yw - 163.3) / 125.8)


add_legend(p1, 0, LEGEND_NAMES, [535, 573, 610, 648], to_data1)
txt(p1, 0, 820, 687, "Hawley et al. (2014)", 38, "right", "middle")
lx0, ly0 = to_data1(843, 687)
lx1, _ = to_data1(945, 687)
p1.line([lx0, lx1], [ly0, ly0], line_color="black", line_width=3.5)

s1 = strip(153, 870, 15, 153, Range1d(4e-5, 15))
s1.y_scale = p1.y_scale
for e in [1, 0, -1, -2, -3, -4]:
    sup = ("\u2212" if e < 0 else "") + str(abs(e))
    end = 94 if e < 0 else 112
    s1.add_layout(Label(x=end, y=10.0 ** e, x_units="screen", y_units="data", text="10", text_font=FONT, text_font_size="36px",
                        text_align="right", text_baseline="middle", y_offset=-3, text_color="black"))
    s1.add_layout(Label(x=127, y=10.0 ** e, x_units="screen", y_units="data", text=sup, text_font=FONT, text_font_size="30px",
                        text_align="right", text_baseline="middle", y_offset=14, text_color="black"))
txt(s1, 0, 13, 410, "A", 38, "left", "alphabetic", pi / 2, left=0)
txt(s1, 0, 27, 385, "peak", 28, "left", "alphabetic", pi / 2, left=0)

c1 = colorbar(870, 15, 153)
r1 = strip(50, 870, 15, 153, Range1d(0, 1))
txt(r1, 0, 1171, 420, "P", 38, "left", "alphabetic", pi / 2, left=R_STRIP_L)
txt(r1, 0, 1186, 395, "rot", 28, "left", "alphabetic", pi / 2, left=R_STRIP_L)
txt(r1, 0, 1171, 350, "[d]", 38, "left", "alphabetic", pi / 2, left=R_STRIP_L)

# ---------- bottom panel ----------
p2 = figure(width=971, height=839, x_range=Range1d(0.45, 2.5), y_range=Range1d(26.7, 32.3),
            output_backend="svg", toolbar_location=None, min_border_left=93, min_border_right=40, min_border_top=20,
            min_border_bottom=117, frame_width=838, frame_height=702)
p2.grid.visible = False
p2.outline_line_color = "black"
p2.outline_line_width = 2
bxmaj = [0.5, 1, 1.5, 2, 2.5]
bxm = [round(0.45 + 0.05 * j, 2) for j in range(1, 41)]
bymaj = [27, 28, 29, 30, 31, 32]
bym = [round(26.7 + 0.1 * j, 1) for j in range(1, 56)]
bottom2, left2 = p2.below[0], p2.left[0]
style_axis(bottom2, bxmaj, bxm, True, 25, {0.5: "0.5", 1: "1", 1.5: "1.5", 2: "2", 2.5: "2.5"})
style_axis(left2, bymaj, bym, True, 24)
left2.major_label_text_font_size = "36px"
bottom_label(bottom2, "log(Flare duration) [min]")
top2, right2 = LinearAxis(), LinearAxis()
style_axis(top2, bxmaj, bxm)
style_axis(right2, bymaj, bym)
p2.add_layout(top2, "above")
p2.add_layout(right2, "right")

scatter_set(p2, [(B_DOWN, "inverted_triangle", 14), (B_UP, "triangle", 14), (B_SQUARE, "square", 12), (B_CIRCLE, "circle", 13)],
            lambda x: x, lambda y: y)
p2.line(LOG_HAWLEY_X, LOG_HAWLEY_Y, line_color="black", line_width=5)


def to_data2(xw, yw):
    return 2 + (xw - 786) / 408.8, 32 - (yw - 927.3) / 125.4


add_legend(p2, 1, LEGEND_NAMES, [1448, 1485, 1525, 1562], to_data2)

s2 = strip(60, 839, 20, 117, Range1d(0, 1))
txt(s2, 1, 13, 1391, "log(\u0394L", 38, "left", "alphabetic", pi / 2, left=0)
txt(s2, 1, 29, 1283, "F,Kp", 28, "left", "alphabetic", pi / 2, left=0)
txt(s2, 1, 13, 1226, ")", 38, "left", "alphabetic", pi / 2, left=0)
txt(s2, 1, 13, 1193, "[erg/s]", 38, "left", "alphabetic", pi / 2, left=0)

c2 = colorbar(839, 20, 117)
r2 = strip(50, 839, 20, 117, Range1d(0, 1))
txt(r2, 1, 1171, 1295, "P", 38, "left", "alphabetic", pi / 2, left=R_STRIP_L)
txt(r2, 1, 1186, 1270, "rot", 28, "left", "alphabetic", pi / 2, left=R_STRIP_L)
txt(r2, 1, 1171, 1225, "[d]", 38, "left", "alphabetic", pi / 2, left=R_STRIP_L)

page = column(row(s1, p1, c1, r1), row(s2, p2, c2, r2))
open("out.html", "w").write(file_html(page, INLINE))
